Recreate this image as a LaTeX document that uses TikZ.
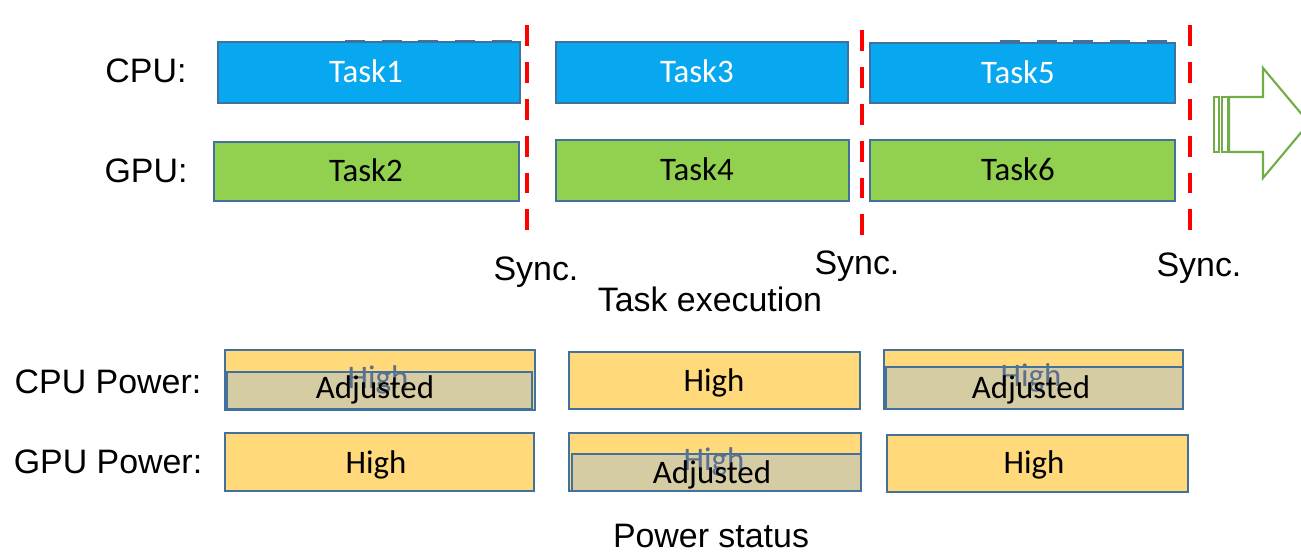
\documentclass[tikz,border=0pt]{standalone}
\usepackage{fontspec}
\setmainfont{Liberation Sans}
\newfontfamily\boxfont{Carlito}
\usepackage{xcolor}

\definecolor{taskblue}{RGB}{8,168,240}
\definecolor{taskgreen}{RGB}{146,208,80}
\definecolor{edgeblue}{RGB}{65,113,156}
\definecolor{powyellow}{RGB}{255,217,122}
\definecolor{powtan}{RGB}{213,204,164}
\definecolor{arrowgreen}{RGB}{112,173,71}
\definecolor{hiddentext}{RGB}{92,112,142}

\begin{document}
\begin{tikzpicture}[x=0.02cm, y=-0.02cm,
  rowlabel/.style={font=\fontsize{19.3}{22}\selectfont, anchor=base, inner sep=0},
  boxtext/.style={font=\boxfont\fontsize{18.7}{22}\selectfont, anchor=base, inner sep=0},
  cpubox/.style={fill=taskblue, draw=edgeblue, line width=1.6pt},
  gpubox/.style={fill=taskgreen, draw=edgeblue, line width=1.1pt},
  highbox/.style={fill=powyellow, draw=edgeblue, line width=1.2pt},
  adjbox/.style={fill=powtan, draw=edgeblue, line width=1.2pt},
  topdash/.style={edgeblue, line width=1.5pt, dash pattern=on 11.3pt off 9.6pt},
  syncline/.style={red, line width=2.8pt, dash pattern=on 11.9pt off 9.1pt}]
\useasboundingbox (0,0) rectangle (1301,552);

% task rows
\node[rowlabel] (cpu) at (146,82) {CPU:};
\node[rowlabel] (gpu) at (146,182) {GPU:};

\draw[topdash] (345,41) -- (518,41);
\draw[topdash] (1000,41) -- (1172,41);
\draw[cpubox] (218,42) rectangle (520,103);
\draw[cpubox] (556,42) rectangle (848,103);
\draw[cpubox] (870,43) rectangle (1175,103);
\node[boxtext, text=white] (t1) at (366,82) {Task1};
\node[boxtext, text=white] (t3) at (697,82) {Task3};
\node[boxtext, text=white] (t5) at (1018,83) {Task5};

\draw[gpubox] (214,142) rectangle (519,201);
\draw[gpubox] (556,140) rectangle (849,201);
\draw[gpubox] (870,140) rectangle (1175,201);
\node[boxtext] (t2) at (366,181) {Task2};
\node[boxtext] (t4) at (697,180) {Task4};
\node[boxtext] (t6) at (1018,180) {Task6};

% sync points
\draw[syncline] (527,25) -- (527,235);
\draw[syncline] (862,30) -- (862,235);
\draw[syncline] (1190,25) -- (1190,235);
\node[rowlabel] (sync1) at (536,280) {Sync.};
\node[rowlabel] (sync2) at (857,274) {Sync.};
\node[rowlabel] (sync3) at (1199,276) {Sync.};
\node[rowlabel] (taskexec) at (710,311) {Task execution};

% next step arrow
\begin{scope}
\clip (0,0) rectangle (1301,552);
\draw[arrowgreen, line width=1.2pt, fill=white] (1229,97) -- (1263,97) -- (1263,68)
  -- (1309,123) -- (1263,178) -- (1263,152) -- (1229,152) -- cycle;
\draw[arrowgreen, line width=1.4pt] (1214,97) rectangle (1219,152);
\draw[arrowgreen, line width=1.4pt] (1222,97) rectangle (1228,152);
\end{scope}

% power rows
\node[rowlabel] (cpupow) at (108,393) {CPU Power:};
\node[rowlabel] (gpupow) at (108,473) {GPU Power:};

\draw[highbox] (225,350) rectangle (535,410);
\draw[adjbox] (227,372) rectangle (532,409);
\node[boxtext, text=hiddentext] (c1high) at (378,388) {High};
\node[boxtext] (c1adj) at (375,398) {Adjusted};

\draw[highbox] (569,352) rectangle (860,409);
\node[boxtext] (c2high) at (714,391) {High};

\draw[highbox] (884,350) rectangle (1183,409);
\draw[adjbox] (886,367) rectangle (1183,409);
\node[boxtext, text=hiddentext] (c3high) at (1031,386) {High};
\node[boxtext] (c3adj) at (1031,398) {Adjusted};

\draw[highbox] (225,433) rectangle (534,491);
\node[boxtext] (g1high) at (376,473) {High};

\draw[highbox] (569,433) rectangle (861,491);
\draw[adjbox] (572,454) rectangle (861,491);
\node[boxtext, text=hiddentext] (g2high) at (714,470) {High};
\node[boxtext] (g2adj) at (712,483) {Adjusted};

\draw[highbox] (887,435) rectangle (1188,492);
\node[boxtext] (g3high) at (1034,473) {High};

\node[rowlabel] (powstat) at (711,547) {Power status};
\end{tikzpicture}
\end{document}
